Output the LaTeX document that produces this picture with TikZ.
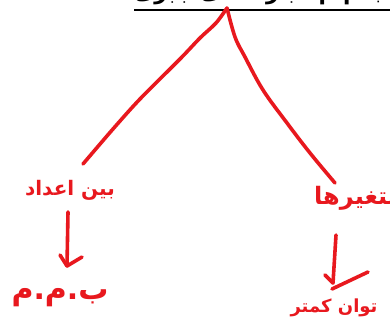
\documentclass[tikz,border=0pt]{standalone}
\usepackage{fontspec}
\newfontfamily\arabicfont[Script=Arabic]{DejaVu Sans}
\TeXXeTstate=1
\definecolor{ink}{RGB}{232,24,30}
\tikzset{
  pen/.style={draw=ink, line width=3.6pt, line cap=round, line join=round},
  hand/.style={text=ink, font=\arabicfont\bfseries, inner sep=0pt},
  toptext/.style={text=black, font=\arabicfont\bfseries\fontsize{22}{26}\selectfont, inner sep=0pt}
}
\begin{document}
\begin{tikzpicture}[x=1pt,y=-1pt]
\useasboundingbox (0,0) rectangle (390,329);
\clip (0,0) rectangle (390,329);
\fill[white] (0,0) rectangle (390,329);
% top heading (clipped by the picture's edge)
\node[toptext, anchor=base] (title) at (262,0) {\beginR ب.م.م عبارت‌های جبری\endR};
\draw[black, line width=2pt] (134,10.5) -- (392,10.5);
\coordinate (apex) at (227,8);
% labels
\node[hand, font=\arabicfont\bfseries\fontsize{20}{24}\selectfont] (left) at (70,190) {\beginR بین اعداد\endR};
\node[hand, font=\arabicfont\bfseries\fontsize{30}{34}\selectfont] (gcd) at (60,298) {\beginR ب.م.م\endR};
\node[hand, font=\arabicfont\bfseries\fontsize{24}{28}\selectfont, anchor=west] (right) at (314,198) {\beginR متغیرها\endR};
\node[hand, font=\arabicfont\bfseries\fontsize{18}{22}\selectfont] (power) at (334,308) {\beginR توان کمتر\endR};
% branches
\draw[pen] plot[smooth, tension=0.5] coordinates {(apex) (216,23) (200,38) (180,59) (140,99) (113,129) (83,164)};
\draw[pen] plot[smooth, tension=0.6] coordinates {(apex) (235,37) (245,57) (263,90) (287,123) (310,153) (335,183)};
% arrows
\coordinate (lt) at (67,266);
\draw[pen] (68,212) -- (lt);
\draw[pen] (60,255) -- (lt) -- (82,257);
\coordinate (rt) at (333,283);
\draw[pen] (336,235) -- (rt);
\draw[pen] (325,275) -- (rt);
\draw[pen] (332,289) -- (368,272);
\end{tikzpicture}
\end{document}
